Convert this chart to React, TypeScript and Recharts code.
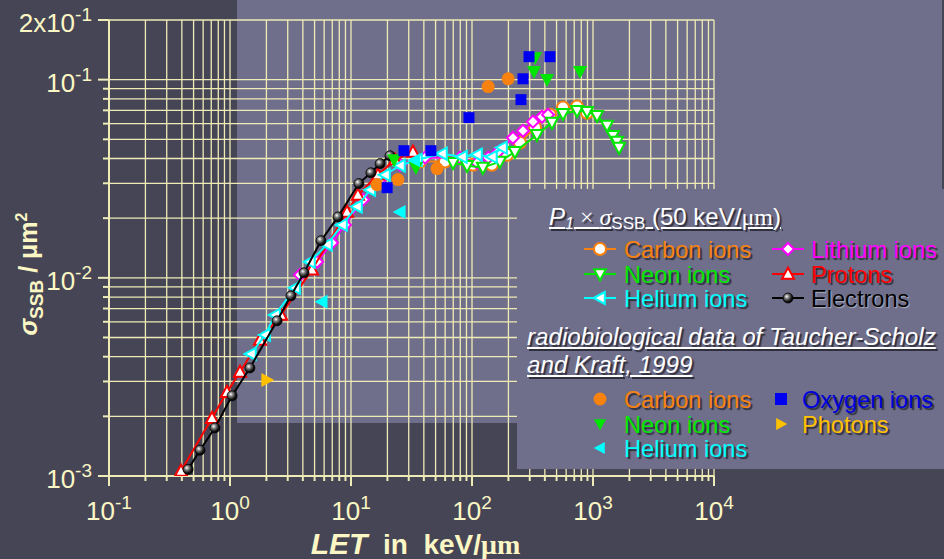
import React from 'react'
import { ScatterChart, Scatter, XAxis, YAxis, CartesianGrid, Legend } from 'recharts'

const W = 944
const H = 559
const PLOT_LEFT = 109
const PLOT_BOTTOM = 476

const DARK = '#464556'
const LIGHT = '#706f8b'
const GRID = '#efebb6'
const TEXT = '#fbf7c4'
const SANS = '"Liberation Sans", Arial, sans-serif'
const SERIF = '"Liberation Serif", "Times New Roman", serif'

// axis decades + labels
const xDecades = [0.1, 1, 10, 100, 1000, 10000]
const xExponents = ['-1', '0', '1', '2', '3', '4']
const yMajor = [0.001, 0.01, 0.1, 0.2]
const yLabelBase = ['10', '10', '10', '2x10']
const yLabelExp = ['-3', '-2', '-1', '-1']
const minorSteps = [2, 3, 4, 5, 6, 7, 8, 9]

const xTicks = xDecades.flatMap((d, i) => (i < xDecades.length - 1 ? [d, ...minorSteps.map((k) => d * k)] : [d]))
const yTicks = [0.001, 0.01].flatMap((d) => [d, ...minorSteps.map((k) => d * k)]).concat([0.1, 0.2])

// model curves: P1 x sigma_SSB (50 keV/um) -- LET in keV/um, sigma in um^2
const electronsLET = [0.45, 0.565, 0.75, 1.04, 1.46, 2.45, 3.19, 4.09, 5.65, 7.81, 11.6, 14.6, 17.4, 21.0]
const electronsSigma = [0.00108, 0.00135, 0.00175, 0.00254, 0.00351, 0.00607, 0.00811, 0.0106, 0.0154, 0.0203, 0.0299, 0.0339, 0.0377, 0.0413]

const protonsLET = [0.394, 0.71, 0.944, 1.21, 1.77, 2.64, 4.76, 9.27, 11.4, 16.7, 23.1, 32.5]
const protonsSigma = [0.00106, 0.00196, 0.00265, 0.00335, 0.00486, 0.0065, 0.011, 0.0215, 0.0262, 0.0331, 0.0394, 0.0432]

const heliumLET = [1.49, 1.95, 2.36, 3.45, 4.58, 6.33, 8.43, 11.2, 14.4, 19.1, 25.4, 35.1, 56.5, 82.6, 110, 146, 177]
const heliumSigma = [0.00413, 0.00515, 0.0065, 0.0089, 0.01205, 0.0147, 0.0185, 0.0229, 0.0278, 0.0331, 0.0368, 0.0394, 0.0423, 0.0408, 0.0418, 0.0408, 0.0454]

const lithiumLET = [3.79, 5.24, 6.97, 8.92, 12.6, 17.4, 25.4, 40.9, 79.6, 110, 136, 164, 218, 264, 319, 379, 425]
const lithiumSigma = [0.01035, 0.01205, 0.01503, 0.0185, 0.0248, 0.0313, 0.0372, 0.0404, 0.0404, 0.0381, 0.0404, 0.0432, 0.0509, 0.0552, 0.0614, 0.065, 0.0665]

const carbonLET = [37.2, 59.8, 102, 146, 195, 249, 332, 441, 565, 738, 892]
const carbonSigma = [0.0386, 0.0386, 0.0372, 0.0372, 0.0418, 0.0481, 0.0573, 0.0665, 0.0723, 0.0731, 0.0681]

const neonLET = [69.7, 91, 123, 170, 226, 344, 458, 565, 738, 892, 1079, 1306, 1463, 1579, 1641]
const neonSigma = [0.0381, 0.0368, 0.036, 0.0386, 0.0432, 0.0527, 0.0607, 0.0673, 0.0697, 0.0689, 0.0658, 0.0587, 0.0521, 0.0487, 0.0454]

// radiobiological data (Taucher-Scholz and Kraft, 1999)
const expCarbonLET = [16.4, 24.4, 51.4, 136, 199]
const expCarbonSigma = [0.0295, 0.0313, 0.0356, 0.0923, 0.101]
const expOxygenLET = [19.9, 27.4, 45.8, 94.4, 254, 264, 296, 441]
const expOxygenSigma = [0.0285, 0.0438, 0.0438, 0.0643, 0.0793, 0.101, 0.1306, 0.1306]
const expNeonLET = [22.7, 34.4, 325, 417, 781, 332]
const expNeonSigma = [0.0394, 0.036, 0.1097, 0.1, 0.1097, 0.129]
const expHeliumLET = [5.75, 25.4, 33.5]
const expHeliumSigma = [0.00757, 0.0215, 0.0392]
const expPhotonsLET = [2.02]
const expPhotonsSigma = [0.00305]

const pts = (xs: number[], ys: number[]) => xs.map((x, i) => ({ x, y: ys[i] }))

const ORANGE = '#f7820f'
const GREEN = '#00e600'
const CYAN = '#00ffff'
const MAGENTA = '#ff00ff'
const RED = '#ff0000'
const BLUE = '#0000f0'
const GOLD = '#ffc000'

const modelSeries = [
  { name: 'Carbon ions', color: ORANGE, kind: 'circle', data: pts(carbonLET, carbonSigma) },
  { name: 'Lithium ions', color: MAGENTA, kind: 'diamond', data: pts(lithiumLET, lithiumSigma) },
  { name: 'Neon ions', color: GREEN, kind: 'down', data: pts(neonLET, neonSigma) },
  { name: 'Protons', color: RED, kind: 'up', data: pts(protonsLET, protonsSigma) },
  { name: 'Helium ions', color: CYAN, kind: 'left', data: pts(heliumLET, heliumSigma) },
  { name: 'Electrons', color: '#000000', kind: 'ball', data: pts(electronsLET, electronsSigma) },
]

const expSeries = [
  { name: 'Carbon ions', color: ORANGE, text: ORANGE, kind: 'circle', data: pts(expCarbonLET, expCarbonSigma) },
  { name: 'Oxygen ions', color: BLUE, text: '#0000dd', kind: 'square', data: pts(expOxygenLET, expOxygenSigma) },
  { name: 'Neon ions', color: GREEN, text: GREEN, kind: 'down', data: pts(expNeonLET, expNeonSigma) },
  { name: 'Photons', color: GOLD, text: GOLD, kind: 'right', data: pts(expPhotonsLET, expPhotonsSigma) },
  { name: 'Helium ions', color: CYAN, text: CYAN, kind: 'left', data: pts(expHeliumLET, expHeliumSigma) },
]
// draw order of the experimental points (blue squares on top)
const expDrawOrder = [0, 2, 4, 3, 1]

function Marker({ kind, cx, cy, size, fill, stroke, sw = 2 }: any) {
  const h = size / 2
  const poly = (p: number[][]) => (
    <polygon points={p.map((q) => q.join(',')).join(' ')} fill={fill} stroke={stroke} strokeWidth={stroke ? sw : 0} strokeLinejoin="miter" />
  )
  switch (kind) {
    case 'circle':
      return <circle cx={cx} cy={cy} r={h} fill={fill} stroke={stroke} strokeWidth={stroke ? sw : 0} />
    case 'ball':
      return <circle cx={cx} cy={cy} r={h} fill="url(#ballGrad)" stroke="#000" strokeWidth={0.8} />
    case 'square':
      return <rect x={cx - h} y={cy - h} width={size} height={size} fill={fill} />
    case 'diamond':
      return poly([[cx, cy - h], [cx + h, cy], [cx, cy + h], [cx - h, cy]])
    case 'up':
      return poly([[cx, cy - h * 1.05], [cx + h, cy + h * 0.8], [cx - h, cy + h * 0.8]])
    case 'down':
      return poly([[cx, cy + h * 1.05], [cx + h, cy - h * 0.8], [cx - h, cy - h * 0.8]])
    case 'left':
      return poly([[cx - h * 1.05, cy], [cx + h * 0.8, cy - h], [cx + h * 0.8, cy + h]])
    case 'right':
      return poly([[cx + h * 1.05, cy], [cx - h * 0.8, cy - h], [cx - h * 0.8, cy + h]])
    default:
      return null
  }
}

const isMajor = (v: number, list: number[]) => list.findIndex((m) => Math.abs(v / m - 1) < 1e-6)

function XTick({ x, payload }: any) {
  const i = isMajor(payload.value, xDecades)
  return (
    <g>
      <line x1={x} x2={x} y1={PLOT_BOTTOM} y2={PLOT_BOTTOM + (i >= 0 ? 10 : 5)} stroke={GRID} strokeWidth={2} />
      {i >= 0 && (
        <text x={x} y={520} textAnchor="middle" fill={TEXT} fontFamily={SANS} fontSize={26}>
          <tspan>10</tspan>
          <tspan dy={-11} fontSize={19}>{xExponents[i]}</tspan>
        </text>
      )}
    </g>
  )
}

function YTick({ y, payload }: any) {
  const i = isMajor(payload.value, yMajor)
  return (
    <g>
      <line x1={PLOT_LEFT - (i >= 0 ? 11 : 6)} x2={PLOT_LEFT} y1={y} y2={y} stroke={GRID} strokeWidth={2} />
      {i >= 0 && (
        <text x={92} y={y + 12} textAnchor="end" fill={TEXT} fontFamily={SANS} fontSize={26}>
          <tspan>{yLabelBase[i]}</tspan>
          <tspan dy={-11} fontSize={19}>{yLabelExp[i]}</tspan>
        </text>
      )}
    </g>
  )
}

function XTitle({ viewBox }: any) {
  const cx = viewBox ? viewBox.x + viewBox.width / 2 + 4 : 416
  return (
    <text x={cx} y={554} textAnchor="middle" fill={TEXT} fontFamily={SANS} fontWeight="bold" fontSize={28} style={{ whiteSpace: 'pre' }}>
      <tspan fontStyle="italic" fontSize={30}>LET</tspan>
      <tspan>{'  in  keV/'}</tspan>
      <tspan fontFamily={SERIF}>μm</tspan>
    </text>
  )
}

function YTitle() {
  return (
    <text x={37} y={274} transform="rotate(-90, 37, 274)" textAnchor="middle" fill={TEXT} fontFamily={SANS} fontWeight="bold" fontSize={25}>
      <tspan fontStyle="italic">σ</tspan>
      <tspan fontSize={19} dy={6}>SSB</tspan>
      <tspan dy={-6}>{' / μm'}</tspan>
      <tspan fontSize={16} dy={-10}>2</tspan>
    </text>
  )
}

const shadow = '2px 2px 1px rgba(25,25,35,0.75)'

function LegendPanel() {
  const rowTops = [47.5, 72.5, 96.5]
  const expTops = [198, 223, 247]
  const lineIconY = [60, 85, 109]
  const expIconY = [210, 235, 259]
  return (
    <div style={{ position: 'relative', width: 427, height: 280, background: LIGHT, fontFamily: SANS, color: '#fff' }}>
      <svg width={427} height={280} style={{ position: 'absolute', left: 0, top: 0 }}>
        {modelSeries.map((s, i) => {
          const col = i % 2
          const row = Math.floor(i / 2)
          const x0 = col === 0 ? 67 : 255
          const y = lineIconY[row]
          return (
            <g key={s.name}>
              <line x1={x0} x2={x0 + 32} y1={y} y2={y} stroke={s.color} strokeWidth={2} />
              <Marker kind={s.kind} cx={x0 + 16} cy={y} size={s.kind === 'ball' ? 10 : 12} fill="#fff" stroke={s.color} />
            </g>
          )
        })}
        {expSeries.map((s, i) => {
          const col = i % 2
          const row = Math.floor(i / 2)
          return <Marker key={s.name + 'e'} kind={s.kind} cx={col === 0 ? 83 : 264} cy={expIconY[row]} size={s.kind === 'circle' ? 13 : 12} fill={s.color} />
        })}
      </svg>
      <div style={{ position: 'absolute', left: 32, top: 14.5, fontSize: 24, lineHeight: '26px', whiteSpace: 'pre', textShadow: shadow, textDecoration: 'underline' }}>
        <i>P</i>
        <sub style={{ fontSize: 16, verticalAlign: '-4px', lineHeight: 0 }}><i>1</i></sub>
        <span style={{ fontFamily: SERIF }}>{' × '}</span>
        <i style={{ fontFamily: SERIF }}>σ</i>
        <sub style={{ fontSize: 17, verticalAlign: '-4px', lineHeight: 0 }}>SSB</sub>
        <span>{' (50 keV/'}</span>
        <span style={{ fontFamily: SERIF }}>μm</span>
        <span>)</span>
      </div>
      {modelSeries.map((s, i) => {
        const col = i % 2
        const row = Math.floor(i / 2)
        return (
          <div key={s.name + 't'} style={{ position: 'absolute', left: col === 0 ? 107 : 294, top: rowTops[row], fontSize: 23.6, lineHeight: '26px', whiteSpace: 'pre', color: s.color, textShadow: s.kind === 'ball' ? '1px 1px 1px rgba(220,220,230,0.6)' : shadow }}>
            {s.name}
          </div>
        )
      })}
      <div style={{ position: 'absolute', left: 10, top: 133.5, fontSize: 24.2, lineHeight: '28px', fontStyle: 'italic', textDecoration: 'underline', textShadow: shadow, whiteSpace: 'pre' }}>
        {'radiobiological data of Taucher-Scholz'}
        <br />
        {'and Kraft, 1999'}
      </div>
      {expSeries.map((s, i) => {
        const col = i % 2
        const row = Math.floor(i / 2)
        return (
          <div key={s.name + 'x'} style={{ position: 'absolute', left: col === 0 ? 107 : 285, top: expTops[row], fontSize: 23.6, lineHeight: '26px', whiteSpace: 'pre', color: s.text, textShadow: shadow }}>
            {s.name}
          </div>
        )
      })}
    </div>
  )
}

export default function App() {
  return (
    <div style={{ position: 'absolute', left: 0, top: 0, width: W, height: H, background: DARK, overflow: 'hidden' }}>
      <div style={{ position: 'absolute', left: 237, top: 0, width: 705, height: 423, background: LIGHT }} />
      <div style={{ position: 'absolute', left: 0, top: 0 }}>
        <ScatterChart width={W} height={H} margin={{ top: 20, right: 230, bottom: 0, left: 0 }}>
          <defs>
            <radialGradient id="ballGrad" cx="38%" cy="35%" r="65%">
              <stop offset="0%" stopColor="#ffffff" />
              <stop offset="30%" stopColor="#8a8a8a" />
              <stop offset="75%" stopColor="#151515" />
              <stop offset="100%" stopColor="#000000" />
            </radialGradient>
          </defs>
          <CartesianGrid stroke={GRID} strokeWidth={1.3} />
          <XAxis
            type="number"
            dataKey="x"
            scale="log"
            domain={[0.1, 10000]}
            allowDataOverflow
            ticks={xTicks}
            interval={0}
            height={83}
            axisLine={{ stroke: GRID, strokeWidth: 2 }}
            tickLine={false}
            tick={<XTick />}
            label={<XTitle />}
          />
          <YAxis
            type="number"
            dataKey="y"
            scale="log"
            domain={[0.001, 0.2]}
            allowDataOverflow
            ticks={yTicks}
            interval={0}
            width={109}
            axisLine={{ stroke: GRID, strokeWidth: 2 }}
            tickLine={false}
            tick={<YTick />}
            label={<YTitle />}
          />
          {modelSeries.map((s) => (
            <Scatter
              key={s.name}
              name={s.name}
              data={s.data}
              line={{ stroke: s.color, strokeWidth: 2 }}
              isAnimationActive={false}
              shape={(p: any) => <Marker kind={s.kind} cx={p.cx} cy={p.cy} size={s.kind === 'ball' ? 10 : 12} fill="#fff" stroke={s.color} />}
            />
          ))}
          {expDrawOrder.map((k) => {
            const s = expSeries[k]
            return (
              <Scatter
                key={s.name + '-exp'}
                name={s.name + ' (exp)'}
                data={s.data}
                isAnimationActive={false}
                shape={(p: any) => <Marker kind={s.kind} cx={p.cx} cy={p.cy} size={s.kind === 'circle' ? 13 : s.kind === 'square' ? 11 : 14} fill={s.color} />}
              />
            )
          })}
          <Legend
            layout="horizontal"
            verticalAlign="middle"
            align="center"
            content={<LegendPanel />}
            wrapperStyle={{ left: 517, top: 189, width: 427, height: 280 }}
          />
        </ScatterChart>
      </div>
    </div>
  )
}
